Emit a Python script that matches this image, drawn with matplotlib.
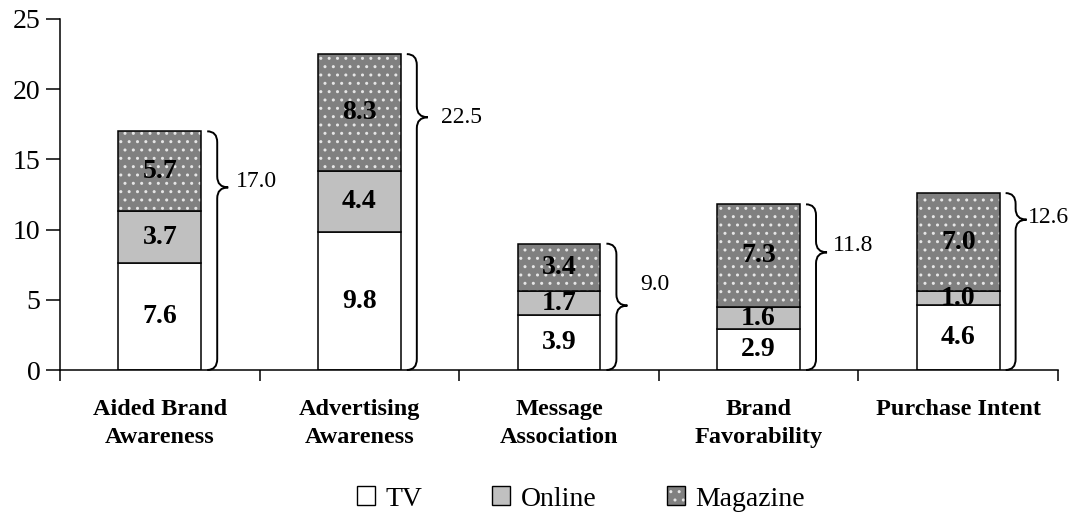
import matplotlib
matplotlib.use("Agg")
import matplotlib.pyplot as plt
from matplotlib.patches import Patch, PathPatch
from matplotlib.path import Path
from matplotlib.legend_handler import HandlerTuple
import numpy as np

plt.rcParams.update({
    'font.family': 'serif',
    'font.serif': ['Liberation Serif', 'DejaVu Serif'],
    'hatch.linewidth': 1.0,
})

# data
categories = ["Aided Brand\nAwareness", "Advertising\nAwareness", "Message\nAssociation",
              "Brand\nFavorability", "Purchase Intent"]
tv = [7.6, 9.8, 3.9, 2.9, 4.6]
online = [3.7, 4.4, 1.7, 1.6, 1.0]
magazine = [5.7, 8.3, 3.4, 7.3, 7.0]

# brace layout (fraction of total height for tip / label, gap in px for label)
tip_frac = [0.765, 0.80, 0.51, 0.71, 0.85]
lab_frac = [0.79, 0.80, 0.68, 0.75, 0.86]
lab_gap = [35, 40, 40, 33, 28]

C_TV = 'white'
C_ON = '#c0c0c0'
C_MAG = '#808080'

fig = plt.figure(figsize=(10.7, 5.18), dpi=100)
ax = fig.add_axes([60 / 1070, 148 / 518, 998 / 1070, 351 / 518])

x = np.arange(len(categories))
w = 0.415
tv_a = np.array(tv)
on_a = np.array(online)
mag_a = np.array(magazine)
total = tv_a + on_a + mag_a

ax.bar(x, tv_a, w, color=C_TV, edgecolor='black', lw=1.1, zorder=2)
ax.bar(x, on_a, w, bottom=tv_a, color=C_ON, edgecolor='black', lw=1.1, zorder=2)
ax.bar(x, mag_a, w, bottom=tv_a + on_a, color=C_MAG, edgecolor='#e6e6e6', lw=0,
       hatch='..', zorder=2)
ax.bar(x, mag_a, w, bottom=tv_a + on_a, fill=False, edgecolor='black', lw=1.1, zorder=3)

# segment labels
for i in range(len(x)):
    for bot, val in [(0, tv_a[i]), (tv_a[i], on_a[i]), (tv_a[i] + on_a[i], mag_a[i])]:
        ax.text(x[i], bot + val / 2, f"{val:.1f}", ha='center', va='center',
                fontsize=20, fontweight='bold', zorder=4)

ax.set_xlim(-0.5, 4.5)
ax.set_ylim(0, 25)

# pixel -> data conversion
px_x = 5.0 / 998
px_y = 25.0 / 351


def brace(xr, top, tip):
    x0 = xr + 6 * px_x
    x1 = xr + 16 * px_x
    x2 = xr + 27 * px_x
    c = 11 * px_y
    verts = [(x0, top), (x1, top), (x1, top - c),
             (x1, tip + c), (x1, tip), (x2, tip),
             (x1, tip), (x1, tip - c),
             (x1, c), (x1, 0), (x0, 0)]
    codes = [Path.MOVETO, Path.CURVE3, Path.CURVE3,
             Path.LINETO, Path.CURVE3, Path.CURVE3,
             Path.CURVE3, Path.CURVE3,
             Path.LINETO, Path.CURVE3, Path.CURVE3]
    ax.add_patch(PathPatch(Path(verts, codes), fill=False, lw=1.4,
                           edgecolor='black', clip_on=False, zorder=4))


for i in range(len(x)):
    xr = x[i] + w / 2
    brace(xr, total[i], total[i] * tip_frac[i])
    ax.text(xr + lab_gap[i] * px_x, total[i] * lab_frac[i], f"{total[i]:.1f}",
            ha='left', va='center', fontsize=17)

# axes styling
for s in ['top', 'right']:
    ax.spines[s].set_visible(False)
ax.spines['left'].set_linewidth(1.1)
ax.spines['bottom'].set_linewidth(1.1)
ax.set_yticks(np.arange(0, 26, 5))
ax.tick_params(axis='y', labelsize=20, length=10, width=1.1, pad=4)
ax.set_xticks(x)
ax.set_xticklabels(categories, fontsize=17.5, fontweight='bold', linespacing=1.45)
ax.tick_params(axis='x', which='major', length=0, pad=21)
ax.set_xticks(np.arange(-0.5, 5, 1), minor=True)
ax.tick_params(axis='x', which='minor', length=8, width=1.1)

handles = [Patch(facecolor=C_TV, edgecolor='black', lw=1.0),
           Patch(facecolor=C_ON, edgecolor='black', lw=1.0),
           (Patch(facecolor=C_MAG, edgecolor='#e6e6e6', lw=0, hatch='..'),
            Patch(fill=False, edgecolor='black', lw=1.0))]
fig.legend(handles, ['TV', 'Online', 'Magazine'], loc='center',
           bbox_to_anchor=(581 / 1070, 19 / 518), ncol=3, frameon=False, fontsize=20,
           handlelength=0.65, handleheight=0.65, handletextpad=0.4, columnspacing=2.5,
           borderpad=0, borderaxespad=0,
           handler_map={tuple: HandlerTuple(ndivide=1, pad=0)})

fig.savefig('out.png', dpi=100)
